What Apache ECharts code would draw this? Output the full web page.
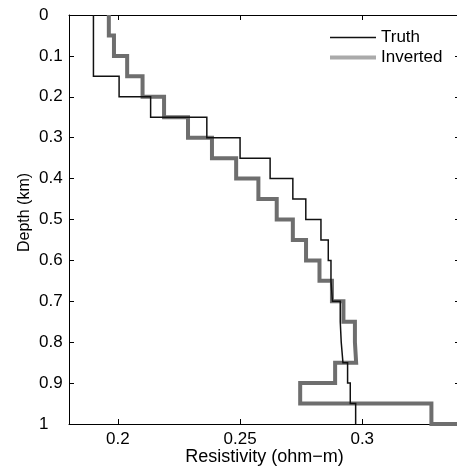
<!DOCTYPE html>
<html>
<head>
<meta charset="utf-8">
<script src="https://cdn.jsdelivr.net/npm/echarts@6/dist/echarts.min.js"></script>
<style>html,body{margin:0;padding:0;background:#fff;}#c{width:457px;height:468px;}</style>
</head>
<body>
<div id="c"></div>
<script>
// Layer boundaries (km), 20 layers of 0.05 km
var layerTops    = [0, 0.05, 0.10, 0.15, 0.20, 0.25, 0.30, 0.35, 0.40, 0.45, 0.50, 0.55, 0.60, 0.65, 0.70, 0.75, 0.80, 0.85, 0.90, 0.95];
var layerBottoms = [0.05, 0.10, 0.15, 0.20, 0.25, 0.30, 0.35, 0.40, 0.45, 0.50, 0.55, 0.60, 0.65, 0.70, 0.75, 0.80, 0.85, 0.90, 0.95, 1.00];
// Resistivity per layer (ohm-m)
var truthValues    = [0.190, 0.190, 0.190, 0.2005, 0.2134, 0.2364, 0.2500, 0.2623, 0.2716, 0.2769, 0.2831, 0.2861, 0.2872, 0.2878, 0.2910, 0.2914, 0.2921, 0.2940, 0.2951, 0.2973];
var invertedValues = [0.1963, 0.1984, 0.2038, 0.2101, 0.2189, 0.2287, 0.2385, 0.2484, 0.2575, 0.2650, 0.2716, 0.2770, 0.2825, 0.2876, 0.2923, 0.2970, 0.2975, 0.2889, 0.2746, 0.3283];
// Half-space below the last layer for the inverted model (off chart to the right)
var invertedHalfSpace = 0.36;
var xTickValues = [0.2, 0.25, 0.3];
var seriesNames = ['Truth', 'Inverted'];

function stepPoints(values, extra) {
  var pts = [];
  for (var i = 0; i < values.length; i++) {
    pts.push([values[i], layerTops[i]]);
    pts.push([values[i], layerBottoms[i]]);
  }
  if (extra !== undefined) pts.push([extra, layerBottoms[layerBottoms.length - 1]]);
  return pts;
}

var font = "'Liberation Sans', Arial, Helvetica, sans-serif";
var chart = echarts.init(document.getElementById('c'), null, {renderer: 'canvas'});
var axisLineStyle = {color: '#000', width: 1};
var hidden = {color: 'rgba(0,0,0,0)', borderColor: 'rgba(0,0,0,0)', borderWidth: 0};
chart.setOption({
  animation: false,
  textStyle: {fontFamily: font, color: '#000'},
  grid: {left: 69, top: 15, right: -3, bottom: 44, containLabel: false, outerBoundsMode: 'none'},
  legend: {
    orient: 'vertical', left: 328, top: 29, padding: 0, itemWidth: 46, itemHeight: 10, itemGap: 3,
    textStyle: {fontFamily: font, fontSize: 17, color: '#000'},
    data: [
      {name: seriesNames[0], itemStyle: hidden, lineStyle: {color: '#111', width: 1.5}},
      {name: seriesNames[1], itemStyle: hidden, lineStyle: {color: '#aaaaaa', width: 4}}
    ]
  },
  xAxis: [{
    type: 'value', position: 'bottom', min: 0.18, max: 0.34,
    name: 'Resistivity (ohm\u2212m)', nameLocation: 'middle', nameGap: 24, nameMoveOverlap: false,
    nameTextStyle: {fontFamily: font, fontSize: 18, color: '#000'},
    axisLine: {show: true, onZero: false, lineStyle: axisLineStyle},
    axisTick: {show: true, inside: true, length: 5, lineStyle: axisLineStyle, customValues: xTickValues},
    axisLabel: {show: true, margin: 7, fontFamily: font, fontSize: 17, color: '#000', customValues: xTickValues,
      formatter: function (v) { return String(Math.round(v * 100) / 100); }},
    splitLine: {show: false}
  }, {
    type: 'value', position: 'top', min: 0.18, max: 0.34,
    axisLine: {show: true, onZero: false, lineStyle: axisLineStyle},
    axisTick: {show: true, inside: true, length: 5, lineStyle: axisLineStyle, customValues: xTickValues},
    axisLabel: {show: false},
    splitLine: {show: false}
  }],
  yAxis: [{
    type: 'value', position: 'left', inverse: true, min: 0, max: 1, interval: 0.1,
    name: 'Depth (km)', nameLocation: 'middle', nameGap: 36, nameRotate: 90, nameMoveOverlap: false,
    nameTextStyle: {fontFamily: font, fontSize: 16, color: '#000', padding: [0, 0, 0, 14]},
    axisLine: {show: true, onZero: false, lineStyle: axisLineStyle},
    axisTick: {show: true, inside: true, length: 5, lineStyle: axisLineStyle},
    axisLabel: {show: true, margin: 30, align: 'left', fontFamily: font, fontSize: 17, color: '#000',
      formatter: function (v) { return String(Math.round(v * 10) / 10); }},
    splitLine: {show: false}
  }, {
    type: 'value', position: 'right', inverse: true, min: 0, max: 1, interval: 0.1,
    axisLine: {show: true, onZero: false, lineStyle: axisLineStyle},
    axisTick: {show: true, inside: true, length: 5, lineStyle: axisLineStyle},
    axisLabel: {show: false},
    splitLine: {show: false}
  }],
  series: [{
    name: seriesNames[1], type: 'line', symbol: 'none', z: 2,
    xAxisIndex: 0, yAxisIndex: 0,
    lineStyle: {color: '#6e6e6e', width: 4, join: 'miter', cap: 'butt'},
    itemStyle: {color: '#6e6e6e'},
    data: stepPoints(invertedValues, invertedHalfSpace)
  }, {
    name: seriesNames[0], type: 'line', symbol: 'none', z: 3,
    xAxisIndex: 0, yAxisIndex: 0,
    lineStyle: {color: '#111', width: 1.5, join: 'miter', cap: 'butt'},
    itemStyle: {color: '#111'},
    data: stepPoints(truthValues)
  }]
});
</script>
</body>
</html>
